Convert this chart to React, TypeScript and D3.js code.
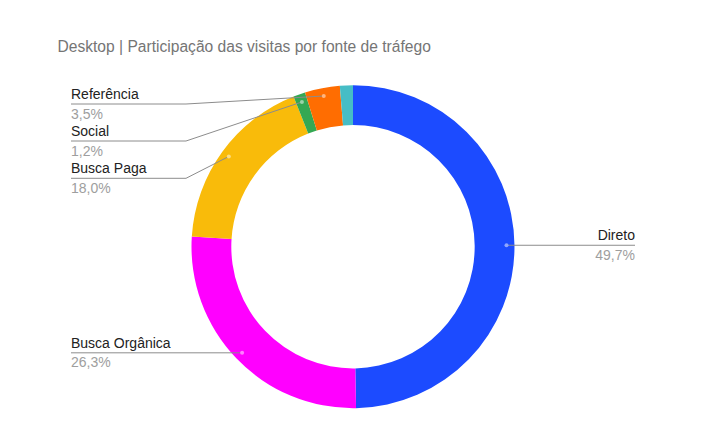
import React from "react";
import * as d3 from "d3";

const categories = ["Direto", "Busca Orgânica", "Busca Paga", "Social", "Referência", "Outros"];
const values = [49.7, 26.3, 18.0, 1.2, 3.5, 1.3];
const labelTexts = ["49,7%", "26,3%", "18,0%", "1,2%", "3,5%", ""];
const colors = ["#1c4bff", "#ff00ff", "#f9bb0a", "#34a853", "#ff6d01", "#46bdc6"];
const title = "Desktop | Participação das visitas por fonte de tráfego";

const W = 720;
const H = 444;
const cx = 353;
const cy = 246.7;
const outerR = 161.5;
const innerR = 121.7;
const dotR = 153.5;

// label layout: side and leader-line y (null = same as dot)
const labelLayout: Record<string, { side: "left" | "right"; lineY: number | null } | undefined> = {
  "Direto": { side: "right", lineY: null },
  "Busca Orgânica": { side: "left", lineY: null },
  "Busca Paga": { side: "left", lineY: 178.3 },
  "Social": { side: "left", lineY: 141 },
  "Referência": { side: "left", lineY: 104 },
};

export default function App() {
  const pie = d3.pie<number>().sort(null).value((d) => d);
  const arcs = pie(values);
  const arcGen = d3.arc<d3.PieArcDatum<number>>().innerRadius(innerR).outerRadius(outerR);
  const font = "Arial, 'Liberation Sans', sans-serif";

  return (
    <svg
      width={W}
      height={H}
      style={{ position: "absolute", left: 0, top: 0, background: "#fff" }}
      fontFamily={font}
    >
      <rect x={0} y={0} width={W} height={H} fill="#fff" />
      <text x={57.5} y={52} fontSize={15.6} fill="#757575">
        {title}
      </text>
      <g transform={`translate(${cx},${cy})`}>
        {arcs.map((a, i) => (
          <path key={i} d={arcGen(a) || ""} fill={colors[i]} />
        ))}
      </g>
      {arcs.map((a, i) => {
        const name = categories[i];
        const lay = labelLayout[name];
        if (!lay) return null;
        const mid = (a.startAngle + a.endAngle) / 2;
        const dx = cx + dotR * Math.sin(mid);
        const dy = cy - dotR * Math.cos(mid);
        const ly = lay.lineY == null ? dy : lay.lineY;
        let pts: [number, number][];
        let tx: number;
        let anchor: "start" | "end";
        if (lay.side === "left") {
          tx = 71;
          anchor = "start";
          pts = [[71, ly], [186, ly], [dx, dy]];
        } else {
          tx = 635;
          anchor = "end";
          pts = [[dx, dy], [635, ly]];
        }
        const line = d3.line()(pts) || "";
        const c = d3.color(colors[i])!;
        const light = d3.interpolateRgb(c.toString(), "#ffffff")(0.5);
        return (
          <g key={name}>
            <path d={line} fill="none" stroke="#8c8c8c" strokeWidth={1} />
            <circle cx={dx} cy={dy} r={2} fill={light} />
            <text x={tx} y={ly - 5} fontSize={14} fill="#222" textAnchor={anchor}>
              {name}
            </text>
            <text x={tx} y={ly + 14.5} fontSize={14} fill="#9e9e9e" textAnchor={anchor}>
              {labelTexts[i]}
            </text>
          </g>
        );
      })}
    </svg>
  );
}
